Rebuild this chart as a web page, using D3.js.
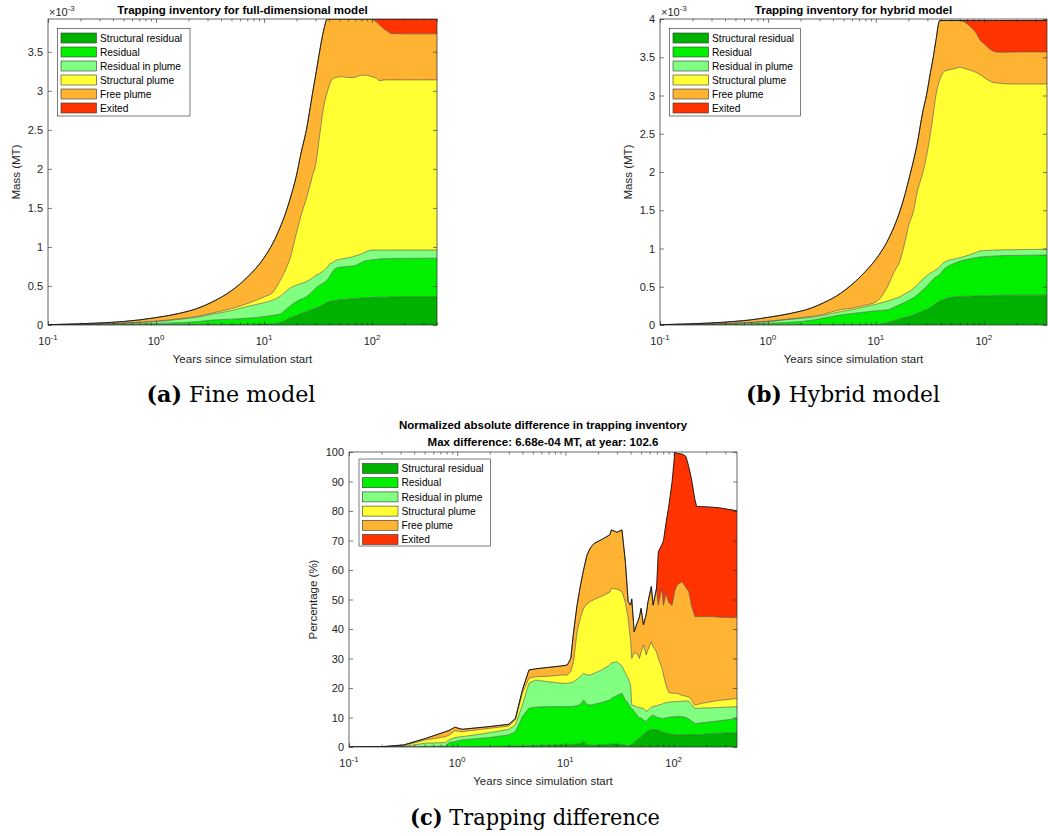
<!DOCTYPE html>
<html><head><meta charset="utf-8">
<script src="https://cdn.jsdelivr.net/npm/d3@7"></script>
<style>body{margin:0;background:#fff}svg{display:block}</style>
</head><body><svg id="c" width="1048" height="836"></svg>
<script>
// ---------- shared ----------
const layerNames = ["Structural residual","Residual","Residual in plume","Structural plume","Free plume","Exited"];
const layerColors = ["#00b200","#00f000","#80ff80","#ffff33","#ffb333","#ff3300"];
const xMajorTicks = [0.1, 1, 10, 100];
const xMajorExp = ["-1","0","1","2"];

// ---------- (a) fine model: upper edge of each stacked band (x1e-3 MT) ----------
const yearsA = [0.1,0.2,0.3,0.5,0.7,1,1.66,2.5,3.37,5,6.86,10,12.1,14,16,17.3,20,22,24.7,28,30.5,32.7,36,38.5,40.5,43,46.6,50,54,60,66.5,72,80,88.5,95,100,110,118,130,140,150,200,300,400];
const fineStructResidual = [0,0,0.001,0.002,0.003,0.004,0.006,0.008,0.009,0.01,0.01,0.012,0.015,0.03,0.064,0.09,0.12,0.145,0.17,0.2,0.22,0.235,0.265,0.29,0.3,0.31,0.315,0.32,0.325,0.33,0.335,0.34,0.345,0.35,0.35,0.352,0.354,0.355,0.356,0.357,0.358,0.36,0.36,0.36];
const fineResidual = [0.001,0.004,0.007,0.012,0.016,0.02,0.03,0.045,0.064,0.075,0.085,0.107,0.125,0.14,0.2,0.24,0.3,0.33,0.363,0.43,0.48,0.51,0.545,0.58,0.62,0.68,0.73,0.74,0.745,0.75,0.756,0.77,0.8,0.825,0.83,0.835,0.84,0.846,0.85,0.85,0.852,0.853,0.855,0.855];
const fineResidualPlume = [0.002,0.007,0.012,0.022,0.032,0.045,0.073,0.105,0.14,0.185,0.235,0.286,0.32,0.363,0.43,0.47,0.51,0.53,0.556,0.6,0.64,0.66,0.7,0.74,0.78,0.8,0.83,0.84,0.85,0.86,0.876,0.89,0.91,0.94,0.955,0.96,0.96,0.96,0.96,0.96,0.96,0.96,0.96,0.96];
const fineStructPlume = [0.002,0.008,0.014,0.025,0.036,0.05,0.08,0.115,0.155,0.21,0.27,0.36,0.42,0.56,0.72,0.84,1.18,1.4,1.62,1.9,2.1,2.42,2.82,2.98,3.08,3.15,3.17,3.18,3.18,3.17,3.17,3.18,3.2,3.2,3.19,3.18,3.16,3.13,3.14,3.14,3.14,3.14,3.14,3.14];
const fineFreePlume = [0.004,0.016,0.026,0.045,0.065,0.095,0.15,0.22,0.3,0.44,0.6,0.86,1.05,1.24,1.45,1.6,1.92,2.2,2.5,2.95,3.25,3.5,3.8,3.92,3.92,3.92,3.92,3.92,3.92,3.92,3.92,3.92,3.92,3.92,3.92,3.915,3.88,3.84,3.79,3.76,3.735,3.73,3.73,3.73];
const fineExited = [0.004,0.016,0.026,0.045,0.065,0.095,0.15,0.22,0.3,0.44,0.6,0.86,1.05,1.24,1.45,1.6,1.92,2.2,2.5,2.95,3.25,3.5,3.8,3.92,3.92,3.92,3.92,3.92,3.92,3.92,3.92,3.92,3.92,3.92,3.92,3.92,3.92,3.92,3.92,3.92,3.92,3.92,3.92,3.92];

// ---------- (b) hybrid model ----------
const yearsB = [0.1,0.2,0.3,0.5,0.7,1,1.6,2.5,3.27,4.67,6,8,10,12.6,14.6,16.8,18.7,20,22.4,24,27.3,29.4,32,34,36,39,42,45.6,50,56.5,60,64,75,85.5,93,100,107,122,140,150,200,300,400];
const hybStructResidual = [0,0,0.001,0.002,0.002,0.003,0.004,0.004,0.005,0.005,0.005,0.005,0.006,0.03,0.055,0.08,0.1,0.11,0.13,0.15,0.18,0.2,0.23,0.255,0.28,0.31,0.33,0.35,0.36,0.37,0.372,0.374,0.376,0.378,0.38,0.38,0.382,0.384,0.386,0.387,0.39,0.39,0.39];
const hybResidual = [0.001,0.004,0.008,0.013,0.018,0.024,0.035,0.06,0.09,0.13,0.15,0.17,0.187,0.196,0.23,0.27,0.3,0.32,0.36,0.39,0.46,0.5,0.56,0.6,0.63,0.66,0.72,0.76,0.79,0.82,0.835,0.845,0.867,0.88,0.89,0.893,0.896,0.9,0.905,0.907,0.91,0.913,0.915];
const hybResidualPlume = [0.002,0.007,0.012,0.022,0.032,0.045,0.074,0.1,0.125,0.174,0.2,0.24,0.27,0.31,0.34,0.37,0.41,0.43,0.48,0.52,0.6,0.64,0.68,0.7,0.72,0.76,0.81,0.84,0.855,0.87,0.88,0.89,0.92,0.95,0.97,0.972,0.975,0.978,0.98,0.982,0.985,0.988,0.99];
const hybStructPlume = [0.002,0.008,0.014,0.025,0.036,0.05,0.08,0.112,0.14,0.2,0.22,0.26,0.3,0.48,0.68,0.85,1.1,1.285,1.5,1.72,2.0,2.2,2.5,2.75,3.0,3.2,3.3,3.33,3.34,3.36,3.37,3.36,3.33,3.3,3.27,3.24,3.21,3.17,3.16,3.155,3.15,3.15,3.15];
const hybFreePlume = [0.004,0.016,0.027,0.048,0.068,0.1,0.15,0.22,0.29,0.41,0.53,0.7,0.86,1.08,1.27,1.5,1.72,1.88,2.16,2.35,2.8,3.0,3.3,3.5,3.72,3.98,3.98,3.98,3.98,3.98,3.98,3.97,3.9,3.81,3.72,3.68,3.64,3.58,3.565,3.565,3.57,3.57,3.57];
const hybExited = [0.004,0.016,0.027,0.048,0.068,0.1,0.15,0.22,0.29,0.41,0.53,0.7,0.86,1.08,1.27,1.5,1.72,1.88,2.16,2.35,2.8,3.0,3.3,3.5,3.72,3.98,3.98,3.98,3.98,3.98,3.98,3.98,3.98,3.98,3.98,3.98,3.98,3.98,3.98,3.98,3.98,3.98,3.98];

// ---------- (c) normalized difference (%) ----------
const yearsC = [0.1,0.2,0.32,0.51,0.78,0.84,0.95,1.11,1.96,3.0,3.45,4.0,4.6,5.3,7.0,9.3,10.4,11.2,11.9,12.8,13.8,14.7,15.8,17.0,18.4,21.3,25.7,26.6,30,33.3,35.8,38,40,41,43.2,46.5,48.2,50,52.6,55.8,58,62.2,64.6,69.5,72.1,77.6,80.6,85,90,96.8,102.6,108,120,130,138,146,157,163,182,228,264,355,400];
const diffStructResidual = [0,0,0,0,0,0,0.1,0.1,0.2,0.3,0.3,0.4,0.5,0.5,0.6,0.7,0.8,0.8,0.9,1.0,1.2,2.0,0.8,0.6,0.6,0.7,0.9,1.0,1.0,0.8,0.6,0.4,0.5,0.7,1.5,2.6,2.9,3.5,4.2,5.0,5.5,5.8,5.8,5.8,5.6,5.2,5.0,4.7,4.4,4.3,4.2,4.2,4.1,4.1,4.1,4.1,4.1,4.1,4.2,4.6,4.7,4.8,4.9];
const diffResidual = [0,0,0,0.2,0.3,1.5,1.8,2.4,3.2,4.1,5.2,10.3,13.1,13.5,13.7,13.7,13.7,13.7,13.8,14.0,14.5,15.9,14.5,14.2,14.5,15,15.9,16.5,17.5,18.2,16,14.8,13.5,13.1,12,10.5,10,9.8,9.2,8.6,9.5,10.6,10.8,10.2,10,9.7,9.7,9.9,10.1,10.2,10.3,10.3,10.3,10.0,9.5,8.8,8.0,8.0,8.2,8.6,8.9,9.5,9.7];
const diffResidualPlume = [0,0.05,0.2,1.3,1.5,2.4,3.2,3.5,4.8,6.0,7.5,14.2,21.6,22.7,22.1,21.6,21.6,21.8,22.1,23,24,25,24.4,24.4,25,26,27.8,28.5,28.9,27.5,25,23.3,21,14.2,14,13.5,13.3,13.2,13.1,12.0,12.5,13.5,13.7,14,14.2,14.5,14.8,15,15.2,15.3,15.4,15.4,15.5,15.6,15.6,14.5,13.1,13.1,13.2,13.3,13.4,13.6,13.7];
const diffStructPlume = [0,0.07,0.45,2.4,3.5,4.0,5.5,5.2,6.3,7.1,9.2,18.2,23.3,23.8,24.0,24.4,24.4,25.5,29,39,44,47,48.5,49.3,50,51,52.5,53.8,53.5,52.7,49,43.6,36,30,32,31.5,30,32,34.6,31.2,33,35.7,34,32.3,30,27,24.4,21,18.5,18.2,18.2,18.2,17.5,17.2,17.0,16,14.2,14.3,14.8,15.4,15.8,16.3,16.5];
const diffFreePlume = [0,0.1,0.7,2.9,5.2,5.6,6.7,6.0,6.9,7.7,9.7,19.3,26.1,26.5,27.0,27.5,27.8,30,39,48,55,60,65,67.5,69,70.2,71.9,73.6,72.8,73.6,62.8,49.3,48.1,50.2,39.1,42.5,44,47,41.4,45,49.3,54.4,48.1,53.8,48.1,53.8,48,52,49,48,53,55,56,54,52.7,48,44.2,44.2,44.2,44.2,44,43.8,44.2];
const diffExited = [0,0.1,0.7,2.9,5.2,5.6,6.7,6.0,6.9,7.7,9.7,19.3,26.1,26.5,27.0,27.5,27.8,30,39,48,55,60,65,67.5,69,70.2,71.9,73.6,72.8,73.6,62.8,49.3,48.1,50.2,39.1,42.5,44,47,41.4,45,49.3,54.4,48.1,53.8,66.2,68.5,70,76,81.5,90,100,99.5,99.3,98.5,95,91,84,81.5,81.5,81.3,81.1,80.3,80];

const yTicksAB = [0,0.5,1,1.5,2,2.5,3,3.5,4];
const yTicksC = [0,10,20,30,40,50,60,70,80,90,100];

// ---------- drawing ----------
const svg = d3.select("#c");
const SANS = "'Liberation Sans', Arial, Helvetica, sans-serif";
const AX = "#262626";

function drawPanel(p){
  const g = svg.append("g");
  const x = d3.scaleLog().domain([0.1, p.xMax]).range([p.left, p.right]);
  const y = d3.scaleLinear().domain([0, p.yMax]).range([p.bottom, p.top]);
  const cid = "clip" + p.id;
  g.append("clipPath").attr("id", cid).append("rect")
    .attr("x", p.left).attr("y", p.top).attr("width", p.right - p.left).attr("height", p.bottom - p.top);
  const pa = g.append("g").attr("clip-path", `url(#${cid})`);
  const idx = d3.range(p.years.length);
  const curve = p.smooth ? d3.curveMonotoneX : d3.curveLinear;
  p.tops.forEach((top, i) => {
    const below = i === 0 ? null : p.tops[i-1];
    const area = d3.area().curve(curve).x(j => x(p.years[j])).y0(j => y(below ? below[j] : 0)).y1(j => y(top[j]));
    pa.append("path").attr("d", area(idx)).attr("fill", layerColors[i]);
  });
  p.tops.forEach((top, i) => {
    const line = d3.line().curve(curve).x(j => x(p.years[j])).y(j => y(top[j]));
    pa.append("path").attr("d", line(idx)).attr("fill", "none")
      .attr("stroke", i === 5 ? "#111" : "#4d4d4d").attr("stroke-width", i === 5 ? 0.9 : 0.6);
  });

  // ticks
  const allT = x.ticks();
  const minors = allT.filter(v => Math.abs(Math.log10(v) - Math.round(Math.log10(v))) > 1e-6);
  const mk = (axis, tx, ty) => {
    const a = g.append("g").attr("transform", `translate(${tx},${ty})`).call(axis);
    a.select(".domain").remove();
    a.selectAll("line").attr("stroke", AX).attr("stroke-width", 0.6);
    a.selectAll("text").remove();
  };
  mk(d3.axisBottom(x).tickValues(xMajorTicks).tickSize(-4).tickFormat(""), 0, p.bottom);
  mk(d3.axisBottom(x).tickValues(minors).tickSize(-2.5).tickFormat(""), 0, p.bottom);
  mk(d3.axisTop(x).tickValues(xMajorTicks).tickSize(-4).tickFormat(""), 0, p.top);
  mk(d3.axisTop(x).tickValues(minors).tickSize(-2.5).tickFormat(""), 0, p.top);
  const yt = p.yTicks.filter(v => v <= p.yMax + 1e-9);
  mk(d3.axisLeft(y).tickValues(yt).tickSize(-4).tickFormat(""), p.left, 0);
  mk(d3.axisRight(y).tickValues(yt).tickSize(-4).tickFormat(""), p.right, 0);
  g.append("rect").attr("x", p.left).attr("y", p.top).attr("width", p.right - p.left).attr("height", p.bottom - p.top)
    .attr("fill", "none").attr("stroke", AX).attr("stroke-width", 0.7);

  // y tick labels
  yt.forEach(v => {
    g.append("text").attr("x", p.left - 5).attr("y", y(v) + 4).attr("text-anchor", "end")
      .attr("font-family", SANS).attr("font-size", 11).attr("fill", AX).text(d3.format("~g")(v));
  });
  // x tick labels
  xMajorTicks.forEach((v, k) => {
    const t = g.append("text").attr("x", x(v)).attr("y", p.bottom + 20).attr("text-anchor", "middle")
      .attr("font-family", SANS).attr("font-size", 11).attr("fill", AX);
    t.append("tspan").text("10");
    t.append("tspan").attr("dy", -5).attr("font-size", 8).text(xMajorExp[k]);
  });
  // axis labels
  const cx = (p.left + p.right) / 2;
  g.append("text").attr("x", cx).attr("y", p.bottom + 38).attr("text-anchor", "middle")
    .attr("font-family", SANS).attr("font-size", 11.5).attr("fill", AX).text("Years since simulation start");
  g.append("text").attr("transform", `translate(${p.ylabX},${(p.top + p.bottom) / 2}) rotate(-90)`)
    .attr("text-anchor", "middle").attr("font-family", SANS).attr("font-size", 11.5).attr("fill", AX).text(p.ylabel);
  if (p.expLabel) {
    const t = g.append("text").attr("x", p.left + 1).attr("y", p.top - 3).attr("font-family", SANS)
      .attr("font-size", 11).attr("fill", AX);
    t.append("tspan").text("\u00d710");
    t.append("tspan").attr("dy", -5).attr("font-size", 8).text("-3");
  }
  // titles
  p.titles.forEach((s, k) => {
    g.append("text").attr("x", cx).attr("y", p.titleY + k * 16.5).attr("text-anchor", "middle")
      .attr("font-family", SANS).attr("font-size", 11.5).attr("font-weight", "bold").attr("fill", "#000").text(s);
  });
  // legend
  const L = p.legend;
  g.append("rect").attr("x", L.x).attr("y", L.y).attr("width", L.w).attr("height", L.h)
    .attr("fill", "#fff").attr("stroke", AX).attr("stroke-width", 0.6);
  layerNames.forEach((n, i) => {
    const cy = L.y + 9.5 + i * L.dy;
    g.append("rect").attr("x", L.x + 3.5).attr("y", cy - 5).attr("width", 35.5).attr("height", 10)
      .attr("fill", layerColors[i]).attr("stroke", "#333").attr("stroke-width", 0.6);
    g.append("text").attr("x", L.x + 42.5).attr("y", cy + 3.6).attr("font-family", SANS).attr("font-size", 10.2)
      .attr("fill", "#000").text(n);
  });
}

drawPanel({id:"a", left:48, right:437, top:19, bottom:325, xMax:400, yMax:3.92, yTicks:yTicksAB, smooth:true,
  years:yearsA, tops:[fineStructResidual,fineResidual,fineResidualPlume,fineStructPlume,fineFreePlume,fineExited],
  titles:["Trapping inventory for full-dimensional model"], titleY:14, ylabel:"Mass (MT)", ylabX:20, expLabel:true,
  legend:{x:57.5, y:28.5, w:132.5, h:87.5, dy:14}});
drawPanel({id:"b", left:660, right:1047, top:19, bottom:325, xMax:385, yMax:4, yTicks:yTicksAB, smooth:true,
  years:yearsB, tops:[hybStructResidual,hybResidual,hybResidualPlume,hybStructPlume,hybFreePlume,hybExited],
  titles:["Trapping inventory for hybrid model"], titleY:14, ylabel:"Mass (MT)", ylabX:632, expLabel:true,
  legend:{x:669.5, y:28.5, w:131, h:87.5, dy:14}});
drawPanel({id:"c", left:349, right:737, top:452, bottom:747, xMax:385, yMax:100, yTicks:yTicksC, smooth:false,
  years:yearsC, tops:[diffStructResidual,diffResidual,diffResidualPlume,diffStructPlume,diffFreePlume,diffExited],
  titles:["Normalized absolute difference in trapping inventory","Max difference: 6.68e-04 MT, at year: 102.6"], titleY:429,
  ylabel:"Percentage (%)", ylabX:317, expLabel:false,
  legend:{x:359, y:459, w:131.5, h:87, dy:14.2}});

// captions
const SERIF = "'DejaVu Serif', 'Liberation Serif', serif";
function caption(cx, yb, lab, rest, w){
  const t = svg.append("text").attr("x", cx).attr("y", yb).attr("text-anchor", "middle")
    .attr("font-family", SERIF).attr("font-size", 21.5).attr("fill", "#000")
    .attr("textLength", w).attr("lengthAdjust", "spacingAndGlyphs");
  t.append("tspan").attr("font-weight", "bold").text(lab);
  t.append("tspan").text(" " + rest);
}
caption(231, 402, "(a)", "Fine model", 169);
caption(843, 402, "(b)", "Hybrid model", 194);
caption(535, 825, "(c)", "Trapping difference", 250);
</script></body></html>
